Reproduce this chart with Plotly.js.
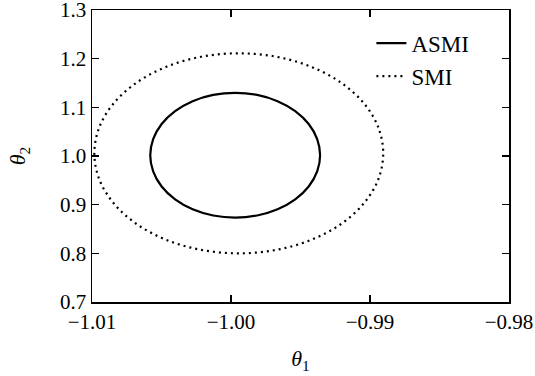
<!DOCTYPE html>
<html>
<head>
<meta charset="utf-8">
<script src="https://cdn.plot.ly/plotly-3.0.1.min.js"></script>
<style>html,body{margin:0;padding:0;background:#fff;}#chart{width:535px;height:376px;}</style>
</head>
<body>
<div id="chart"></div>
<script>
// ASMI confidence ellipse
const asmiX = [-0.99359,-0.99380,-0.99441,-0.99538,-0.99665,-0.99812,-0.99970,-1.00128,-1.00276,-1.00402,-1.00499,-1.00560,-1.00581,-1.00560,-1.00499,-1.00402,-1.00276,-1.00128,-0.99970,-0.99812,-0.99665,-0.99538,-0.99441,-0.99380,-0.99359];
const asmiY = [1.0016,1.0348,1.0658,1.0923,1.1127,1.1255,1.1299,1.1255,1.1127,1.0923,1.0658,1.0348,1.0016,0.9684,0.9374,0.9109,0.8905,0.8777,0.8733,0.8777,0.8905,0.9109,0.9374,0.9684,1.0016];
// SMI confidence ellipse
const smiX = [-0.98905,-0.98940,-0.99044,-0.99209,-0.99425,-0.99675,-0.99944,-1.00213,-1.00464,-1.00679,-1.00844,-1.00948,-1.00983,-1.00948,-1.00844,-1.00679,-1.00464,-1.00213,-0.99944,-0.99675,-0.99425,-0.99209,-0.99044,-0.98940,-0.98905];
const smiY = [1.0055,1.0587,1.1083,1.1508,1.1835,1.2040,1.2110,1.2040,1.1835,1.1508,1.1083,1.0587,1.0055,0.9523,0.9028,0.8602,0.8275,0.8070,0.8000,0.8070,0.8275,0.8602,0.9028,0.9523,1.0055];
const xTicks = [-1.01,-1.00,-0.99,-0.98];
const xTickText = ['\u22121.01','\u22121.00','\u22120.99','\u22120.98'];
const yTicks = [0.7,0.8,0.9,1.0,1.1,1.2,1.3];
const yTickText = ['0.7','0.8','0.9','1.0','1.1','1.2','1.3'];

const font = 'Liberation Serif, Times New Roman, serif';
const traces = [
  {x: asmiX, y: asmiY, mode: 'lines', name: 'ASMI', line: {color: '#000', width: 2.2, shape: 'spline'}},
  {x: smiX, y: smiY, mode: 'lines', name: 'SMI', line: {color: '#000', width: 2.2, dash: '2px,4px', shape: 'spline'}}
];
const axisCommon = {
  showgrid: false, zeroline: false, showline: true, mirror: 'ticks',
  linecolor: '#000', linewidth: 1.5, ticks: 'inside', ticklen: 7, tickwidth: 1.2, tickcolor: '#000',
  ticklabeloverflow: 'allow',
  tickfont: {family: font, size: 21, color: '#000'}
};
const layout = {
  width: 535, height: 376,
  margin: {l: 91.5, r: 26, t: 10, b: 74},
  paper_bgcolor: '#fff', plot_bgcolor: '#fff',
  font: {family: font, color: '#000'},
  showlegend: true,
  legend: {x: 0.67, y: 0.96, xanchor: 'left', yanchor: 'top', bgcolor: 'rgba(0,0,0,0)', itemwidth: 30, font: {family: font, size: 23, color: '#000'}},
  xaxis: Object.assign({}, axisCommon, {
    range: [-1.01, -0.98], tickmode: 'array', tickvals: xTicks, ticktext: xTickText,
    title: {text: '<i>θ</i><sub>1</sub>', font: {family: font, size: 22, color: '#000'}, standoff: 18}
  }),
  yaxis: Object.assign({}, axisCommon, {
    range: [0.7, 1.3], tickmode: 'array', tickvals: yTicks, ticktext: yTickText,
    title: {text: '<i>θ</i><sub>2</sub>', font: {family: font, size: 22, color: '#000'}, standoff: 28}
  })
};
Plotly.newPlot('chart', traces, layout, {staticPlot: true, displayModeBar: false});
</script>
</body>
</html>
